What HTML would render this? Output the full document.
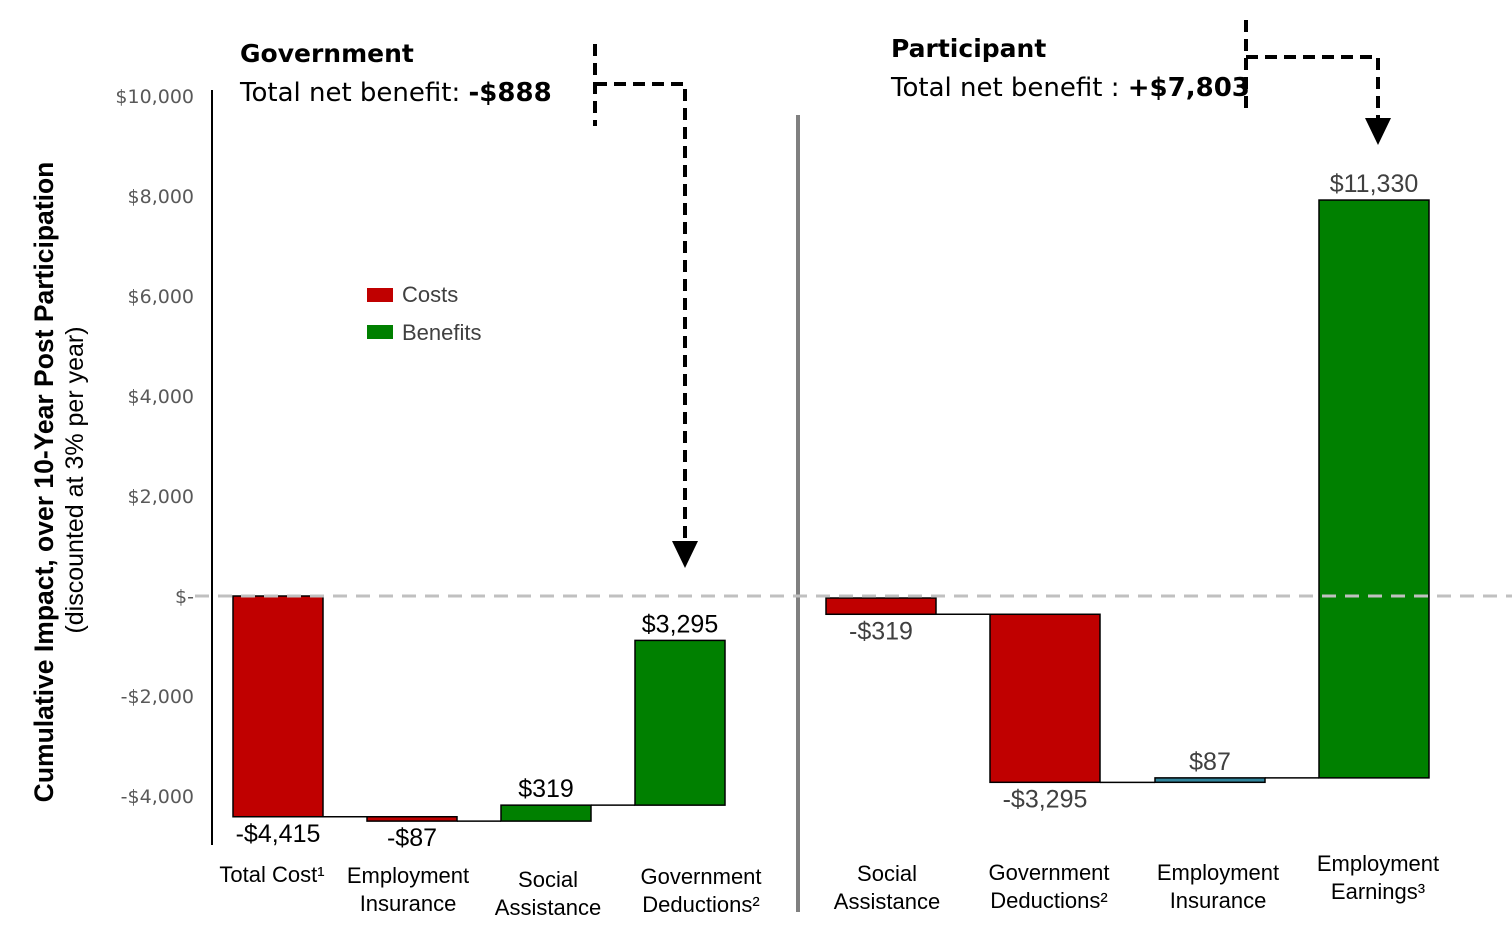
<!DOCTYPE html>
<html><head><meta charset="utf-8"><style>
body{margin:0;background:#fff;}
svg{display:block;font-family:"Liberation Sans",Arial,sans-serif;}
</style></head><body>
<svg width="1512" height="938" viewBox="0 0 1512 938">
<g id="axis"></g>
<line x1="212" y1="90" x2="212" y2="845" stroke="#000" stroke-width="2"/>
<line x1="798" y1="115" x2="798" y2="912" stroke="#808080" stroke-width="4"/>
<g id="bars"></g>
<line x1="195" y1="596" x2="1512" y2="596" stroke="#c0c0c0" stroke-width="3" stroke-dasharray="14,9"/>
<g id="labels"></g>
<text transform="translate(53,482) rotate(-90)" text-anchor="middle" font-size="26.5" font-weight="bold">Cumulative Impact, over 10-Year Post Participation</text>
<text transform="translate(83,480) rotate(-90)" text-anchor="middle" font-size="25">(discounted at 3% per year)</text>
<g font-family="'DejaVu Sans',sans-serif">
<text x="240" y="62" font-size="25" font-weight="bold">Government</text>
<text x="240" y="101" font-size="26">Total net benefit: <tspan font-weight="bold">-$888</tspan></text>
<text x="891" y="57" font-size="25" font-weight="bold">Participant</text>
<text x="891" y="96" font-size="26">Total net benefit : <tspan font-weight="bold">+$7,803</tspan></text>
</g>
<g fill="none" stroke="#000" stroke-width="4" stroke-dasharray="12,7">
<path d="M595 44V126M595 84H685V540"/></g>
<polygon points="672,541 698,541 685,568" fill="#000"/>
<g fill="none" stroke="#000" stroke-width="4" stroke-dasharray="12,7">
<path d="M1246 20V115M1246 57H1378V118"/></g>
<polygon points="1365,118 1391,118 1378,145" fill="#000"/>
<rect x="367" y="288" width="26" height="14" fill="#c00000"/>
<text x="402" y="302" font-size="22" fill="#404040">Costs</text>
<rect x="367" y="325" width="26" height="14" fill="#008000"/>
<text x="402" y="340" font-size="22" fill="#404040">Benefits</text>
</svg>
<script>
const ticks=[10000,8000,6000,4000,2000,0,-2000,-4000];
const tickLabels=["$10,000","$8,000","$6,000","$4,000","$2,000","$-","-$2,000","-$4,000"];
const govCats=[["Total Cost¹"],["Employment","Insurance"],["Social","Assistance"],["Government","Deductions²"]];
const govValues=[-4415,-87,319,3295];
const govLabels=["-$4,415","-$87","$319","$3,295"];
const partCats=[["Social","Assistance"],["Government","Deductions²"],["Employment","Insurance"],["Employment","Earnings³"]];
const partValues=[-319,-3295,87,11330];
const partLabels=["-$319","-$3,295","$87","$11,330"];
const partColors=["#c00000","#c00000","#31849b","#008000"];
const NS="http://www.w3.org/2000/svg";
function yG(v){return 596-v*0.05;}
function yP(v){return 598-v*0.051;}
function mk(t,a,p){const e=document.createElementNS(NS,t);for(const k in a)e.setAttribute(k,a[k]);(p||document.querySelector('svg')).appendChild(e);return e;}
const ax=document.getElementById('axis');
ticks.forEach((t,i)=>{const e=mk('text',{x:194,y:yG(t)+7,'text-anchor':'end','font-size':19,fill:'#595959','font-family':"'DejaVu Sans',sans-serif"},ax);e.textContent=tickLabels[i];

});
const bars=document.getElementById('bars'),lab=document.getElementById('labels');
function draw(vals,labels,cats,xs,w,yf,colors,catY,catX){
 let cum=0;
 vals.forEach((v,i)=>{
  const s=cum,e2=cum+v;cum=e2;
  const y1=yf(Math.max(s,e2)),y2=yf(Math.min(s,e2));
  const col=colors?colors[i]:(v<0?'#c00000':'#008000');
  const r=mk('rect',{x:xs[i],y:y1,width:w,height:Math.max(y2-y1,3),fill:col,stroke:'#000','stroke-width':1.5},bars);
  
  
  if(i<vals.length-1){const l=mk('line',{x1:xs[i]+w,x2:xs[i+1],y1:yf(e2),y2:yf(e2),stroke:'#000','stroke-width':1.5},bars);
   
   }
  const ly=v<0?y2+25:y1-8;
  const t=mk('text',{x:xs[i]+w/2,y:ly,'text-anchor':'middle','font-size':25,fill:colors?'#404040':'#000'},lab);
  t.textContent=labels[i];
  
  
  cats[i].forEach((c,j)=>{const ct=mk('text',{x:catX[i],y:catY[i]+j*28,'text-anchor':'middle','font-size':22,fill:'#000'},lab);
   ct.textContent=c;
   
   });
 });
}
draw(govValues,govLabels,govCats,[233,367,501,635],90,yG,null,[882,883,887,884],[272,408,548,701]);
draw(partValues,partLabels,partCats,[826,990,1155,1319],110,yP,partColors,[881,880,880,871],[887,1049,1218,1378]);
</script>
</body></html>
